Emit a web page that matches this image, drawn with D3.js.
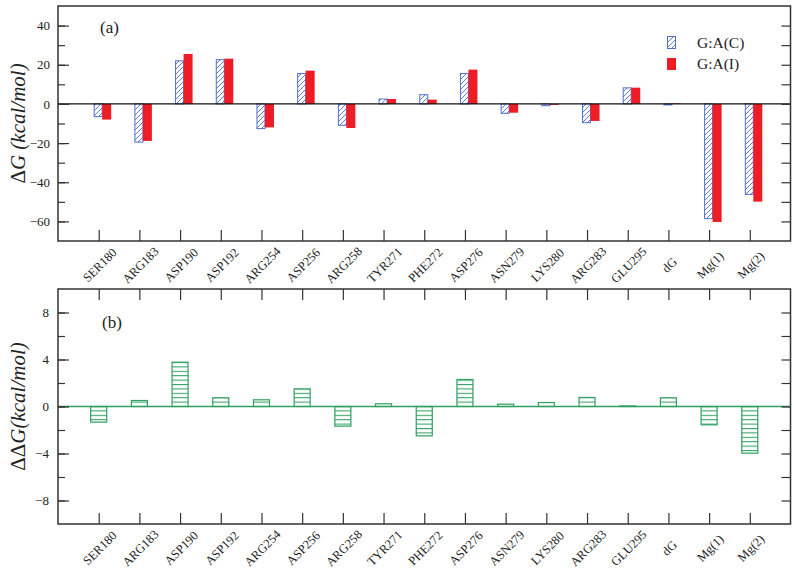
<!DOCTYPE html>
<html>
<head>
<meta charset="utf-8">
<script src="https://cdn.jsdelivr.net/npm/d3@7"></script>
<style>
  body { margin: 0; background: #fff; }
  svg text { font-family: "Liberation Serif", "Times New Roman", serif; fill: #222; }
</style>
</head>
<body>
<script>
'use strict';

const residues = ['SER180', 'ARG183', 'ASP190', 'ASP192', 'ARG254', 'ASP256', 'ARG258', 'TYR271',
  'PHE272', 'ASP276', 'ASN279', 'LYS280', 'ARG283', 'GLU295', 'dG', 'Mg(1)', 'Mg(2)'];

// ΔG per residue, complex C and complex I
const dgC = [-6.5, -19.5, 22.0, 22.6, -12.6, 15.5, -10.9, 2.5, 4.7, 15.5, -4.8, -0.9, -9.6, 8.2, -0.5, -58.6, -46.2];
const dgI = [-8.0, -18.9, 25.5, 23.1, -12.0, 17.0, -12.3, 2.5, 2.2, 17.5, -4.5, -0.5, -8.7, 8.3, 0.3, -60.3, -49.9];

// ΔΔG per residue
const ddg = [-1.33, 0.51, 3.77, 0.74, 0.57, 1.5, -1.67, 0.23, -2.5, 2.3, 0.2, 0.34, 0.77, 0.05, 0.74, -1.56, -3.97];

const topTicks = [-60, -50, -40, -30, -20, -10, 0, 10, 20, 30, 40];
const topLabels = [-60, -40, -20, 0, 20, 40];
const botTicks = [-8, -6, -4, -2, 0, 2, 4, 6, 8];
const botLabels = [-8, -4, 0, 4, 8];

const width = 800, height = 570;
const left = 58, right = 790.5;
const serif = '"Liberation Serif", "Times New Roman", serif';

let svg = d3.select('body').append('svg')
    .attr('width', width)
    .attr('height', height)
    .attr('font-family', serif);

let defs = svg.append('defs');

defs.append('pattern')
    .attr('id', 'hatchBlue')
    .attr('patternUnits', 'userSpaceOnUse')
    .attr('width', 5).attr('height', 5)
    .append('path')
    .attr('d', 'M-1,1 l2,-2 M0,5 l5,-5 M4,6 l2,-2')
    .attr('stroke', '#4f6fd0')
    .attr('stroke-width', 0.9);

defs.append('pattern')
    .attr('id', 'hatchGreen')
    .attr('patternUnits', 'userSpaceOnUse')
    .attr('width', 10).attr('height', 4.4)
    .attr('y', 406)
    .append('path')
    .attr('d', 'M0,0.5 H10')
    .attr('stroke', '#2fa060')
    .attr('stroke-width', 1.1);

let x = d3.scalePoint()
    .domain(residues)
    .range([left, right])
    .padding(1);

function styleAxis(g) {
    g.attr('font-family', serif).attr('font-size', 13);
    g.select('.domain').remove();
    g.selectAll('line').attr('stroke', '#333').attr('stroke-width', 1.2);
    g.selectAll('text').attr('fill', '#333');
}

// slanted residue names under an axis
function catLabels(g, y0) {
    g.selectAll('text.xlab')
        .data(residues).enter()
        .append('text')
        .attr('class', 'xlab')
        .attr('text-anchor', 'middle')
        .attr('dy', '0.35em')
        .attr('font-size', 12.5)
        .attr('fill', '#333')
        .style('transform', d => `translate(${x(d) + 1}px,${y0 + 24}px) rotate(-45deg)`)
        .text(d => d);
}

// ---------- panel (a) ----------
const aTop = 6, aBot = 241;
let yA = d3.scaleLinear().domain([-70, 50]).range([aBot, aTop]);

let gA = svg.append('g');

gA.selectAll('rect.c')
    .data(dgC).enter()
    .append('rect')
    .attr('class', 'c')
    .attr('x', (d, i) => x(residues[i]) - 4.5)
    .attr('width', 8)
    .attr('y', d => yA(Math.max(0, d)))
    .attr('height', d => Math.abs(yA(d) - yA(0)))
    .attr('fill', 'url(#hatchBlue)')
    .attr('stroke', '#4f6fd0')
    .attr('stroke-width', 1);

gA.selectAll('rect.i')
    .data(dgI).enter()
    .append('rect')
    .attr('class', 'i')
    .attr('x', (d, i) => x(residues[i]) + 3.5)
    .attr('width', 9)
    .attr('y', d => yA(Math.max(0, d)))
    .attr('height', d => Math.abs(yA(d) - yA(0)))
    .attr('fill', '#ee1c25');

gA.append('line')
    .attr('x1', left).attr('x2', right)
    .attr('y1', yA(0)).attr('y2', yA(0))
    .attr('stroke', '#111').attr('stroke-width', 1.2);

gA.append('g').attr('transform', `translate(${left},0)`)
    .call(d3.axisLeft(yA).tickValues(topTicks).tickSize(-7).tickFormat(''))
    .call(styleAxis);
gA.append('g').attr('transform', `translate(${left},0)`)
    .call(d3.axisLeft(yA).tickValues(topLabels).tickSize(-11).tickPadding(8))
    .call(styleAxis);
gA.append('g').attr('transform', `translate(${right},0)`)
    .call(d3.axisRight(yA).tickValues(topTicks).tickSize(-9).tickFormat(''))
    .call(styleAxis);

gA.append('g').attr('transform', `translate(0,${aBot})`)
    .call(d3.axisBottom(x).tickSize(-11).tickFormat(''))
    .call(styleAxis);
catLabels(gA, aBot);

gA.append('rect')
    .attr('x', left).attr('y', aTop)
    .attr('width', right - left).attr('height', aBot - aTop)
    .attr('fill', 'none').attr('stroke', '#333').attr('stroke-width', 1.5);

gA.append('text')
    .attr('x', 100).attr('y', 33)
    .attr('font-size', 17)
    .text('(a)');

let titleA = gA.append('text')
    .attr('transform', `translate(25,${(aTop + aBot) / 2}) rotate(-90)`)
    .attr('text-anchor', 'middle')
    .attr('font-size', 21);
titleA.append('tspan').text('Δ');
titleA.append('tspan').attr('font-style', 'italic').text('G (kcal/mol)');

// legend
let legend = gA.append('g');
legend.append('rect')
    .attr('x', 667.5).attr('y', 36.5).attr('width', 8).attr('height', 12)
    .attr('fill', 'url(#hatchBlue)').attr('stroke', '#4f6fd0').attr('stroke-width', 1);
legend.append('rect')
    .attr('x', 667).attr('y', 58).attr('width', 9).attr('height', 12)
    .attr('fill', '#ee1c25');
legend.append('text').attr('x', 697).attr('y', 47.5).attr('font-size', 15.5).text('G:A(C)');
legend.append('text').attr('x', 697).attr('y', 68.5).attr('font-size', 15.5).text('G:A(I)');

// ---------- panel (b) ----------
const bTop = 289, bBot = 524;
let yB = d3.scaleLinear().domain([-10, 10]).range([bBot, bTop]);

let gB = svg.append('g');

gB.selectAll('rect.dd')
    .data(ddg).enter()
    .append('rect')
    .attr('class', 'dd')
    .attr('x', (d, i) => x(residues[i]) - 8)
    .attr('width', 16)
    .attr('y', d => yB(Math.max(0, d)))
    .attr('height', d => Math.abs(yB(d) - yB(0)))
    .attr('fill', 'url(#hatchGreen)')
    .attr('stroke', '#2fa060')
    .attr('stroke-width', 1.2);

gB.append('line')
    .attr('x1', left).attr('x2', right)
    .attr('y1', yB(0)).attr('y2', yB(0))
    .attr('stroke', '#2fa060').attr('stroke-width', 1.3);

gB.append('g').attr('transform', `translate(${left},0)`)
    .call(d3.axisLeft(yB).tickValues(botTicks).tickSize(-7).tickFormat(''))
    .call(styleAxis);
gB.append('g').attr('transform', `translate(${left},0)`)
    .call(d3.axisLeft(yB).tickValues(botLabels).tickSize(-11).tickPadding(9))
    .call(styleAxis);
gB.append('g').attr('transform', `translate(${right},0)`)
    .call(d3.axisRight(yB).tickValues(botTicks).tickSize(-9).tickFormat(''))
    .call(styleAxis);

gB.append('g').attr('transform', `translate(0,${bTop})`)
    .call(d3.axisTop(x).tickSize(-11).tickFormat(''))
    .call(styleAxis);
gB.append('g').attr('transform', `translate(0,${bBot})`)
    .call(d3.axisBottom(x).tickSize(-11).tickFormat(''))
    .call(styleAxis);
catLabels(gB, bBot);

gB.append('rect')
    .attr('x', left).attr('y', bTop)
    .attr('width', right - left).attr('height', bBot - bTop)
    .attr('fill', 'none').attr('stroke', '#333').attr('stroke-width', 1.5);

gB.append('text')
    .attr('x', 102).attr('y', 328)
    .attr('font-size', 17)
    .text('(b)');

let titleB = gB.append('text')
    .attr('transform', `translate(25,${(bTop + bBot) / 2}) rotate(-90)`)
    .attr('text-anchor', 'middle')
    .attr('font-size', 21);
titleB.append('tspan').text('ΔΔ');
titleB.append('tspan').attr('font-style', 'italic').text('G(kcal/mol)');
</script>
</body>
</html>
